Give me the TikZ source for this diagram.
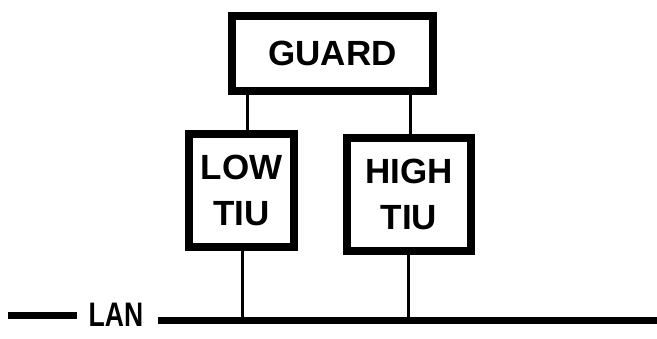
\documentclass[tikz,border=0pt]{standalone}
\usepackage{fontspec}
\setmainfont{Liberation Sans}
\begin{document}
\begin{tikzpicture}[x=1pt,y=-1pt,
  box/.style={draw,line width=8pt,rectangle,inner sep=0pt,align=center,
    font=\fontsize{35}{46}\selectfont\bfseries},
  conn/.style={line width=3pt},
  bus/.style={line width=7pt}]
\useasboundingbox (0,0) rectangle (657,338);
\node[box,minimum width=201pt,minimum height=75pt] (guard) at (332.5,53.5) {GUARD};
\node[box,minimum width=105pt,minimum height=113pt] (low) at (241.5,190) {LOW\\TIU};
\node[box,minimum width=124pt,minimum height=113pt] (high) at (409,194) {HIGH\\TIU};
\node[font=\fontsize{34}{36}\selectfont\bfseries,inner sep=0pt,xscale=0.78] (lan) at (116,315) {LAN};
\coordinate (busL) at (158,320);
\coordinate (busR) at (657,320);
\coordinate (stubL) at (8,315);
\coordinate (stubR) at (77,315);
\coordinate (g1) at (247,0);
\coordinate (g2) at (410,0);
\coordinate (t1) at (242,0);
\coordinate (t2) at (408,0);
\draw[bus] (busL) -- (busR);
\draw[bus] (stubL) -- (stubR);
\draw[conn] (guard.south -| g1) -- (low.north -| g1);
\draw[conn] (guard.south -| g2) -- (high.north -| g2);
\draw[conn] (low.south -| t1) -- (busL -| t1);
\draw[conn] (high.south -| t2) -- (busL -| t2);
\end{tikzpicture}
\end{document}
